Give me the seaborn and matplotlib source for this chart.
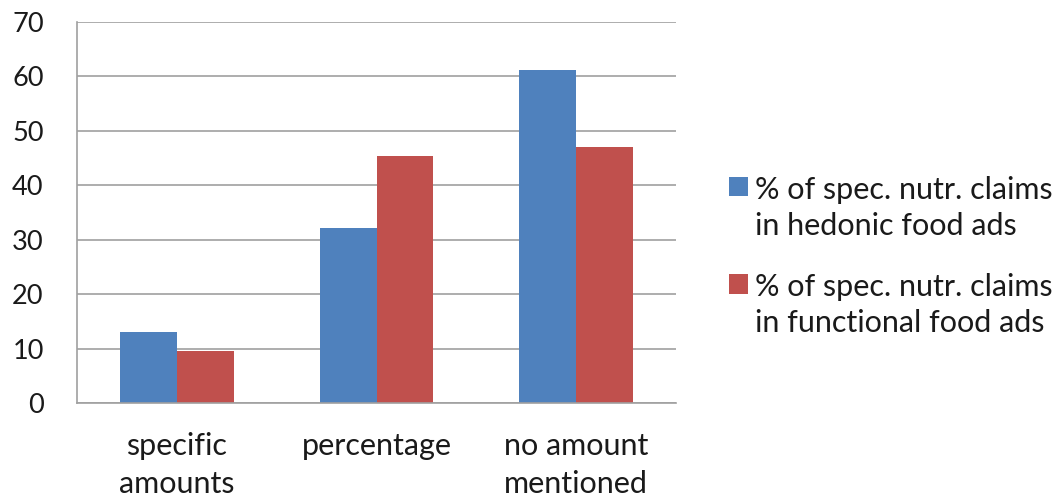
import matplotlib
matplotlib.use("Agg")
import matplotlib.pyplot as plt
import seaborn as sns
import pandas as pd

# chart values
categories = ["specific\namounts", "percentage", "no amount\nmentioned"]
series_names = ["% of spec. nutr. claims\nin hedonic food ads",
                "% of spec. nutr. claims\nin functional food ads"]
hedonic = [13.0, 32.2, 61.2]
functional = [9.5, 45.4, 47.1]
colors = ["#4F81BD", "#C0504D"]
y_ticks = [0, 10, 20, 30, 40, 50, 60, 70]

df = pd.DataFrame({
    "category": categories * 2,
    "value": hedonic + functional,
    "series": [series_names[0]] * 3 + [series_names[1]] * 3,
})

sns.set_style("white")
plt.rcParams["font.family"] = ["Lato", "DejaVu Sans"]

fig = plt.figure(figsize=(10.64, 4.99), dpi=100)
ax = fig.add_axes([0.0724, 0.1924, 0.5630, 0.7635])

sns.barplot(data=df, x="category", y="value", hue="series", palette=colors,
            width=0.57, saturation=1, ax=ax, edgecolor="none")

ax.set_ylim(0, 70)
ax.set_xlim(-0.5, 2.5)
ax.set_yticks(y_ticks)
ax.yaxis.grid(True, color="#a0a0a0", linewidth=1.2)
ax.set_axisbelow(True)
ax.set_xlabel("")
ax.set_ylabel("")
ax.tick_params(axis="y", labelsize=19.5, length=0, pad=24, labelcolor="#1a1a1a")
ax.tick_params(axis="x", labelsize=22, length=0, pad=21, labelcolor="#1a1a1a")
for lbl in ax.get_xticklabels():
    lbl.set_linespacing(1.42)

for side in ["top", "right"]:
    ax.spines[side].set_visible(False)
for side in ["left", "bottom"]:
    ax.spines[side].set_color("#a0a0a0")
    ax.spines[side].set_linewidth(1.2)

# legend: text block centred, squares moved up to sit beside the first line
leg = ax.legend(loc="center left", bbox_to_anchor=(0.685, 0.486),
                bbox_transform=fig.transFigure, frameon=False, borderpad=0,
                borderaxespad=0, fontsize=22, handlelength=0.62,
                handleheight=0.62, handletextpad=0.25, labelspacing=1.1)
for t in leg.get_texts():
    t.set_linespacing(1.33)
    t.set_color("#1a1a1a")
for h in leg.legend_handles:
    h.set_y(h.get_y() + 16.0)

fig.savefig("out.png", dpi=100)
